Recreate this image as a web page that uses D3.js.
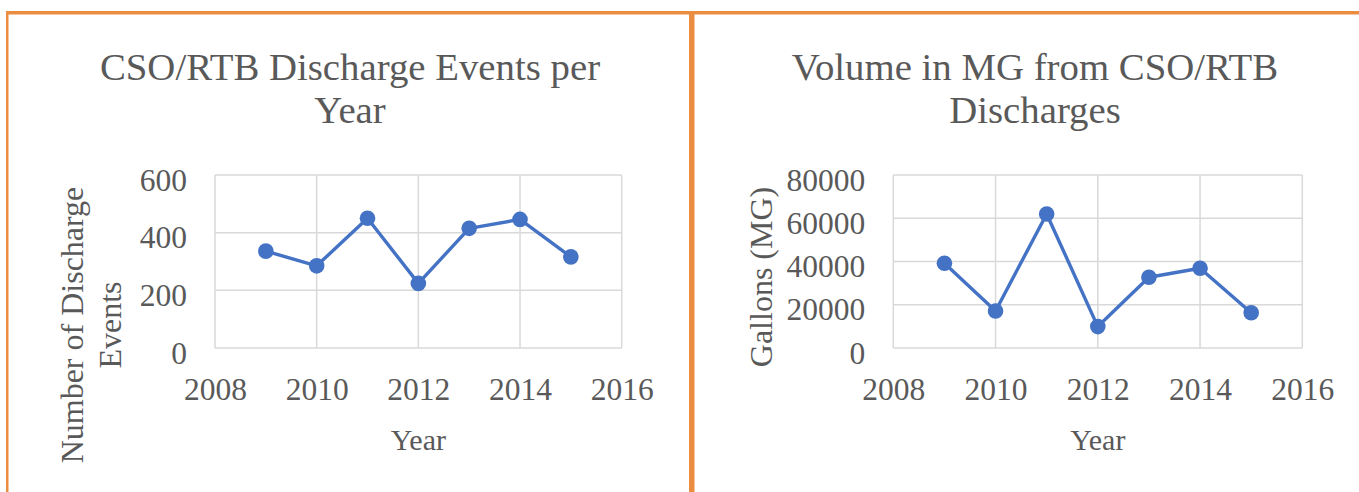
<!DOCTYPE html>
<html>
<head>
<meta charset="utf-8">
<script src="https://cdn.jsdelivr.net/npm/d3@7"></script>
<style>
  html, body { margin: 0; padding: 0; background: #ffffff; }
  svg { display: block; }
  text { font-family: "Liberation Serif", "Times New Roman", serif; fill: #595959; }
</style>
</head>
<body>
<script>
// ---- data ----
const years = [2009, 2010, 2011, 2012, 2013, 2014, 2015];
const events = [336, 285, 450, 224, 415, 446, 316];
const volume = [39200, 17100, 62000, 9900, 32700, 36900, 16300];
const xTicks = [2008, 2010, 2012, 2014, 2016];
const eventsTicks = [0, 200, 400, 600];
const volumeTicks = [0, 20000, 40000, 60000, 80000];
const leftTitle = ["CSO/RTB Discharge Events per", "Year"];
const rightTitle = ["Volume in MG from CSO/RTB", "Discharges"];
const leftYTitle = ["Number of Discharge", "Events"];
const rightYTitle = ["Gallons (MG)"];
const xTitle = "Year";

const W = 1359, H = 492;
const svg = d3.select("body").append("svg").attr("width", W).attr("height", H);

const orange = "#EB8D41";
const blue = "#4472C4";
const grid = "#d9d9d9";

// panel borders
svg.append("rect").attr("x", 6).attr("y", 11).attr("width", W - 6).attr("height", 3.5).attr("fill", orange);
svg.append("rect").attr("x", 6).attr("y", 11).attr("width", 2.5).attr("height", H - 11).attr("fill", orange);
svg.append("rect").attr("x", 689).attr("y", 11).attr("width", 5.5).attr("height", H - 11).attr("fill", orange);

function drawChart(cfg) {
  const g = svg.append("g");
  const x = d3.scaleLinear().domain([2008, 2016]).range([cfg.x0, cfg.x1]);
  const y = d3.scaleLinear().domain([0, cfg.yMax]).range([348, 175]);

  // title
  cfg.title.forEach((t, i) => {
    g.append("text").attr("x", cfg.titleX).attr("y", 80 + i * 43)
      .attr("text-anchor", "middle").style("font-size", "38.8px").text(t);
  });

  // gridlines
  g.append("g").selectAll("line.h").data(cfg.yTicks).join("line")
    .attr("x1", cfg.x0).attr("x2", cfg.x1)
    .attr("y1", d => y(d)).attr("y2", d => y(d))
    .attr("stroke", grid).attr("stroke-width", 1.5);
  g.append("g").selectAll("line.v").data(xTicks).join("line")
    .attr("x1", d => x(d)).attr("x2", d => x(d))
    .attr("y1", 175).attr("y2", 348)
    .attr("stroke", grid).attr("stroke-width", 1.5);

  // axes (labels only, via d3 axis)
  const xAxis = d3.axisBottom(x).tickValues(xTicks).tickFormat(d3.format("d")).tickSize(0).tickPadding(0);
  const xg = g.append("g").attr("transform", "translate(0,400)").call(xAxis);
  xg.select(".domain").remove();
  xg.selectAll("text").attr("dy", 0).attr("y", 0).style("font-size", "31.5px")
    .style("font-family", "Liberation Serif").attr("fill", "#595959");

  const yAxis = d3.axisLeft(y).tickValues(cfg.yTicks).tickFormat(d3.format("d")).tickSize(0).tickPadding(0);
  const yg = g.append("g").attr("transform", `translate(${cfg.x0 - 28},0)`).call(yAxis);
  yg.select(".domain").remove();
  yg.selectAll("text").attr("x", 0).attr("dy", "0.35em").attr("y", 4).style("font-size", "31.5px")
    .style("font-family", "Liberation Serif").attr("fill", "#595959");

  // axis titles
  g.append("text").attr("x", (cfg.x0 + cfg.x1) / 2).attr("y", 450)
    .attr("text-anchor", "middle").style("font-size", "30px").text(xTitle);
  cfg.yTitle.forEach((t, i) => {
    g.append("text")
      .attr("transform", `translate(${cfg.yTitleX + i * 38},${cfg.yTitleY}) rotate(-90)`)
      .attr("text-anchor", "middle").style("font-size", "32px").text(t);
  });

  // series
  const line = d3.line().x((d, i) => x(years[i])).y(d => y(d));
  g.append("path").datum(cfg.values).attr("d", line)
    .attr("fill", "none").attr("stroke", blue).attr("stroke-width", 3.4).attr("stroke-linejoin", "round");
  g.append("g").selectAll("circle").data(cfg.values).join("circle")
    .attr("cx", (d, i) => x(years[i])).attr("cy", d => y(d)).attr("r", 7.8).attr("fill", blue);
}

drawChart({
  x0: 215, x1: 621.7, yMax: 600, yTicks: eventsTicks, values: events,
  title: leftTitle, titleX: 350, yTitle: leftYTitle, yTitleX: 83, yTitleY: 325
});
drawChart({
  x0: 893.3, x1: 1302.3, yMax: 80000, yTicks: volumeTicks, values: volume,
  title: rightTitle, titleX: 1035, yTitle: rightYTitle, yTitleX: 772, yTitleY: 277
});
</script>
</body>
</html>
